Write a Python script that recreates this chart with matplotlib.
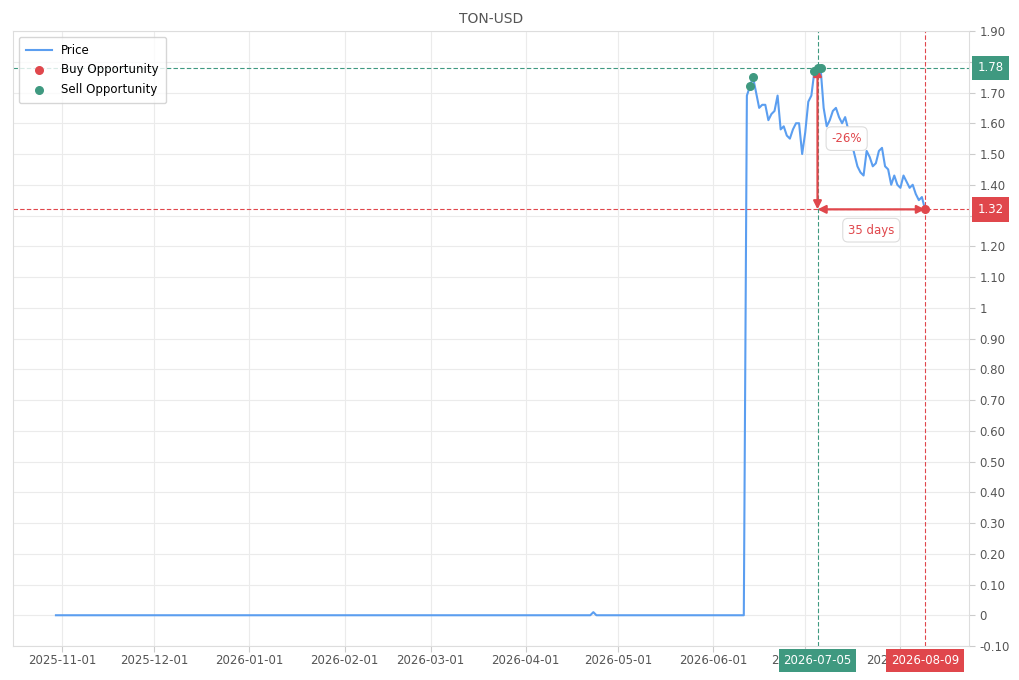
import matplotlib
matplotlib.use("Agg")

import matplotlib.pyplot as plt
import matplotlib.dates as mdates
import matplotlib.ticker as mticker
import matplotlib.transforms as mtransforms
import numpy as np
import pandas as pd

# ── Data ────────────────────────────────────────────────────────────────────
# flat (near zero) stretch, only the turning points
flat_dates = ["2025-10-30", "2026-04-22", "2026-04-23", "2026-04-24", "2026-06-11"]
flat_prices = [0.0, 0.0, 0.01, 0.0, 0.0]

# daily prices after listing, 2026-06-12 .. 2026-08-09
daily_prices = [
    1.69, 1.72, 1.75, 1.70, 1.65, 1.66, 1.66, 1.61, 1.63, 1.64,
    1.69, 1.58, 1.59, 1.56, 1.55, 1.58, 1.60, 1.60, 1.50, 1.57,
    1.67, 1.69, 1.77, 1.78, 1.78, 1.65, 1.59, 1.61, 1.64, 1.65,
    1.62, 1.60, 1.62, 1.58, 1.54, 1.50, 1.46, 1.44, 1.43, 1.51,
    1.49, 1.46, 1.47, 1.51, 1.52, 1.46, 1.45, 1.40, 1.43, 1.40,
    1.39, 1.43, 1.41, 1.39, 1.40, 1.37, 1.35, 1.36, 1.32,
]
daily_start = "2026-06-12"

sell_dates = ["2026-06-13", "2026-06-14", "2026-07-04", "2026-07-05", "2026-07-06"]
sell_prices = [1.72, 1.75, 1.77, 1.78, 1.78]
buy_dates = ["2026-08-09"]
buy_prices = [1.32]

peak_date, peak_price = "2026-07-05", 1.78
last_date, last_price = "2026-08-09", 1.32
change_label = "-26%"
days_label = "35 days"

# ── Style ───────────────────────────────────────────────────────────────────
BLUE = "#5b9ef0"
GREEN = "#3f9980"
RED = "#e0474c"
GRID = "#ebebeb"
TXT = "#555555"

plt.rcParams.update({
    "font.family": "DejaVu Sans",
    "font.size": 8.5,
})

dates = pd.to_datetime(flat_dates).append(
    pd.date_range(daily_start, periods=len(daily_prices), freq="D"))
prices = flat_prices + daily_prices

fig = plt.figure(figsize=(10.2, 6.8), dpi=100)
ax = fig.add_axes([0.0127, 0.05, 0.9373, 0.9044])

ax.plot(dates, prices, color=BLUE, lw=1.5, label="Price", zorder=3)
ax.scatter(pd.to_datetime(buy_dates), buy_prices, color=RED, s=30, zorder=5,
           label="Buy Opportunity")
ax.scatter(pd.to_datetime(sell_dates), sell_prices, color=GREEN, s=30, zorder=5,
           label="Sell Opportunity")

pk = pd.Timestamp(peak_date)
ls = pd.Timestamp(last_date)

# reference lines
ax.axhline(peak_price, color=GREEN, lw=0.8, ls=(0, (4, 2)), zorder=2)
ax.axhline(last_price, color=RED, lw=0.8, ls=(0, (4, 2)), zorder=2)
ax.axvline(pk, color=GREEN, lw=0.8, ls=(0, (4, 2)), zorder=2)
ax.axvline(ls, color=RED, lw=0.8, ls=(0, (4, 2)), zorder=2)

# arrows
arrow_kw = dict(arrowstyle="<|-|>", color=RED, lw=1.6, mutation_scale=12,
                shrinkA=0, shrinkB=0)
ax.annotate("", xy=(pk, last_price), xytext=(pk, peak_price),
            arrowprops=arrow_kw, zorder=4)
ax.annotate("", xy=(pk, last_price), xytext=(ls, last_price),
            arrowprops=arrow_kw, zorder=4)

box_kw = dict(boxstyle="round,pad=0.45", fc="white", ec="#dddddd", lw=0.8)
ax.annotate(change_label, xy=(pk, (peak_price + last_price) / 2),
            xytext=(21, 0), textcoords="offset points", color=RED,
            ha="center", va="center", fontsize=8.5, bbox=box_kw, zorder=6)
ax.annotate(days_label, xy=(pk + (ls - pk) / 2, last_price),
            xytext=(0, -15), textcoords="offset points", color=RED,
            ha="center", va="center", fontsize=8.5, bbox=box_kw, zorder=6)

# axes
ax.set_xlim(pd.Timestamp("2025-10-16"), pd.Timestamp("2026-08-23 08:00"))
ax.set_ylim(-0.10, 1.90)
ax.xaxis.set_major_locator(mdates.MonthLocator(bymonthday=1))
ax.xaxis.set_major_formatter(mdates.DateFormatter("%Y-%m-%d"))
ax.yaxis.set_major_locator(mticker.MultipleLocator(0.10))


def yfmt(v, _):
    if abs(v - round(v)) < 1e-9:
        return f"{int(round(v))}"
    return f"{v:.2f}"


ax.yaxis.set_major_formatter(mticker.FuncFormatter(yfmt))
ax.yaxis.tick_right()
ax.tick_params(axis="both", colors="#cccccc", labelcolor=TXT, labelsize=8.5,
               length=4, width=0.8)
ax.tick_params(axis="x", pad=2)
ax.grid(True, color=GRID, lw=0.8)
ax.set_axisbelow(True)
for sp in ax.spines.values():
    sp.set_color("#dddddd")
    sp.set_linewidth(0.8)

ax.set_title("TON-USD", color=TXT, fontsize=10, pad=6)

# value tags on axes
ytrans = mtransforms.blended_transform_factory(ax.transAxes, ax.transData)
xtrans = mtransforms.blended_transform_factory(ax.transData, ax.transAxes)
for val, col in [(peak_price, GREEN), (last_price, RED)]:
    ax.text(1.009, val, f"{val:.2f}", transform=ytrans, color="white",
            ha="left", va="center", fontsize=8.5, clip_on=False, zorder=10,
            bbox=dict(boxstyle="square,pad=0.48", fc=col, ec="none"))
for d, col in [(pk, GREEN), (ls, RED)]:
    ax.text(d, -0.013, d.strftime("%Y-%m-%d"), transform=xtrans, color="white",
            ha="center", va="top", fontsize=8.5, clip_on=False, zorder=10,
            bbox=dict(boxstyle="square,pad=0.4", fc=col, ec="none"))

leg = ax.legend(loc="upper left", frameon=True, fancybox=True, fontsize=8.5,
                borderpad=0.6, labelspacing=0.55, handlelength=2.2,
                bbox_to_anchor=(0.0, 1.0))
leg.get_frame().set_edgecolor("#cccccc")

fig.savefig("out.png", dpi=100, facecolor="white")
